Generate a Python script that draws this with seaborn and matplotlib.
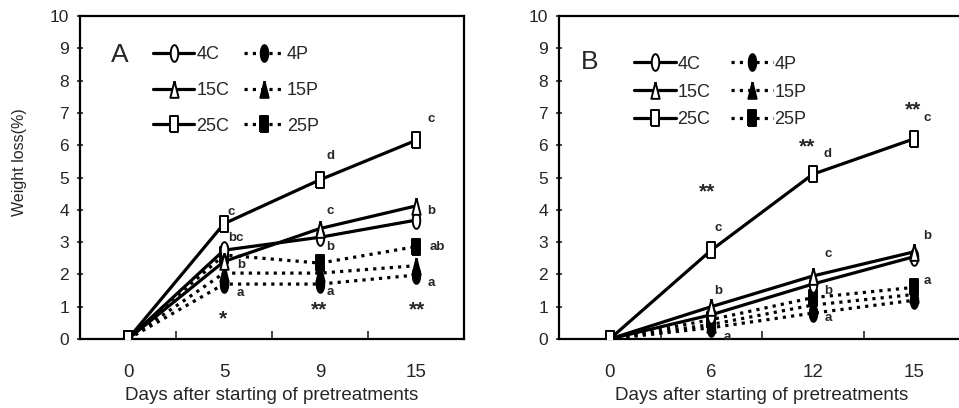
import numpy as np
import matplotlib
matplotlib.use("Agg")
import matplotlib.pyplot as plt
import seaborn as sns

# ---------------- data ----------------
days_A = ["0", "5", "9", "15"]
A_4C = [0, 2.75, 3.15, 3.68]
A_15C = [0, 2.40, 3.42, 4.12]
A_25C = [0, 3.57, 4.93, 6.15]
A_4P = [0, 1.70, 1.70, 1.98]
A_15P = [0, 2.04, 2.04, 2.27]
A_25P = [0, 2.60, 2.35, 2.86]

days_B = ["0", "6", "12", "15"]
B_4C = [0, 0.75, 1.70, 2.55]
B_15C = [0, 1.00, 1.95, 2.70]
B_25C = [0, 2.75, 5.10, 6.20]
B_4P = [0, 0.35, 0.80, 1.20]
B_15P = [0, 0.45, 1.05, 1.38]
B_25P = [0, 0.60, 1.28, 1.60]

series_names = ["4C", "15C", "25C", "4P", "15P", "25P"]
y_ticks = list(range(0, 11))

# significance letters: (text, category index, y)
ann_A = [("c", 1.08, 3.93), ("bc", 1.12, 3.12), ("b", 1.18, 2.29), ("a", 1.17, 1.43),
         ("*", 0.99, 0.62), ("d", 2.11, 5.67), ("c", 2.11, 3.96), ("b", 2.11, 2.85),
         ("a", 2.11, 1.45), ("**", 1.99, 0.90), ("c", 3.16, 6.80), ("b", 3.16, 3.97),
         ("ab", 3.22, 2.85), ("a", 3.16, 1.74), ("**", 3.01, 0.90)]
ann_B = [("**", 0.96, 4.55), ("c", 1.07, 3.44), ("b", 1.07, 1.49), ("a", 1.16, 0.06),
         ("**", 1.94, 5.95), ("d", 2.15, 5.72), ("c", 2.15, 2.63), ("b", 2.15, 1.49),
         ("a", 2.15, 0.65), ("**", 2.99, 7.09), ("c", 3.13, 6.83), ("b", 3.13, 3.19),
         ("a", 3.13, 1.80)]

# ---------------- style ----------------
sns.set_theme(style="white")
plt.rcParams['font.family'] = ['Liberation Sans', 'DejaVu Sans']

t = np.linspace(0, 2 * np.pi, 48)
ELL = list(zip(0.45 * np.cos(t), np.sin(t)))
TRI = [(0, 1), (-0.5, -1), (0.5, -1), (0, 1)]
SQR = [(-0.45, -1), (0.45, -1), (0.45, 1), (-0.45, 1), (-0.45, -1)]
DOT = (0, (1.0, 1.6))

styles = {
    "4C": (ELL, "white", "-", 4),
    "15C": (TRI, "white", "-", 5),
    "25C": (SQR, "white", "-", 6),
    "4P": (ELL, "black", DOT, 2),
    "15P": (TRI, "black", DOT, 2),
    "25P": (SQR, "black", DOT, 3),
}

fig = plt.figure(figsize=(9.59, 4.08), dpi=100)
axA = fig.add_axes([80 / 959, 69 / 408, 384 / 959, 323 / 408])
axB = fig.add_axes([559 / 959, 69 / 408, 406 / 959, 323 / 408])


def draw(ax, days, vals, anns, letter, letter_xy, leg_anchor, colspace, labspace):
    x = np.arange(len(days))
    for name in series_names:
        mk, fc, ls, z = styles[name]
        sns.lineplot(x=x, y=vals[name], ax=ax, color="black", linewidth=2.3,
                     linestyle=ls, marker=mk, markersize=12, markerfacecolor=fc,
                     markeredgecolor="black", markeredgewidth=1.4,
                     dash_capstyle="butt", label=name, zorder=z)
    ax.set_xlim(-0.5, 3.5)
    ax.set_ylim(0, 10)
    ax.set_xticks(x, labels=days, fontsize=13.5)
    ax.set_xticks([0.5, 1.5, 2.5], minor=True)
    ax.tick_params(axis="x", which="major", length=0, pad=18)
    ax.tick_params(axis="x", which="minor", bottom=True, direction="in", length=6, width=1.2)
    ax.set_yticks(y_ticks, labels=[str(v) for v in y_ticks], fontsize=12.5)
    ax.tick_params(axis="y", direction="inout", length=4, width=1.2, pad=6, left=True)
    for s in ax.spines.values():
        s.set_color("black")
        s.set_linewidth(1.6)
    ax.set_xlabel("Days after starting of pretreatments", fontsize=13.5, labelpad=4)
    ax.set_ylabel("")
    for txt, xi, yi in anns:
        if "*" in txt:
            ax.text(xi, yi, txt, ha="center", va="center", fontsize=15, fontweight="bold")
        else:
            ax.text(xi, yi, txt, ha="center", va="center", fontsize=9.5, fontweight="bold")
    ax.text(letter_xy[0], letter_xy[1], letter, transform=ax.transAxes, fontsize=19,
            ha="center", va="center")
    h, l = ax.get_legend_handles_labels()
    ax.legend(h, l, ncol=2, loc="upper left", bbox_to_anchor=leg_anchor,
              frameon=False, borderaxespad=0, borderpad=0, handlelength=2.3,
              handletextpad=0.1, labelspacing=labspace, columnspacing=colspace,
              prop={"size": 13})


draw(axA, days_A, {"4C": A_4C, "15C": A_15C, "25C": A_25C, "4P": A_4P, "15P": A_15P, "25P": A_25P},
     ann_A, "A", (0.104, 0.879), (0.19, 0.906), 0.8, 1.03)
draw(axB, days_B, {"4C": B_4C, "15C": B_15C, "25C": B_25C, "4P": B_4P, "15P": B_15P, "25P": B_25P},
     ann_B, "B", (0.076, 0.858), (0.185, 0.877), 1.15, 0.6)

fig.text(20 / 959, 1 - 162 / 408, "Weight loss(%)", rotation=90, ha="center", va="center",
         fontsize=11.5)

fig.savefig("out.png", dpi=100)
